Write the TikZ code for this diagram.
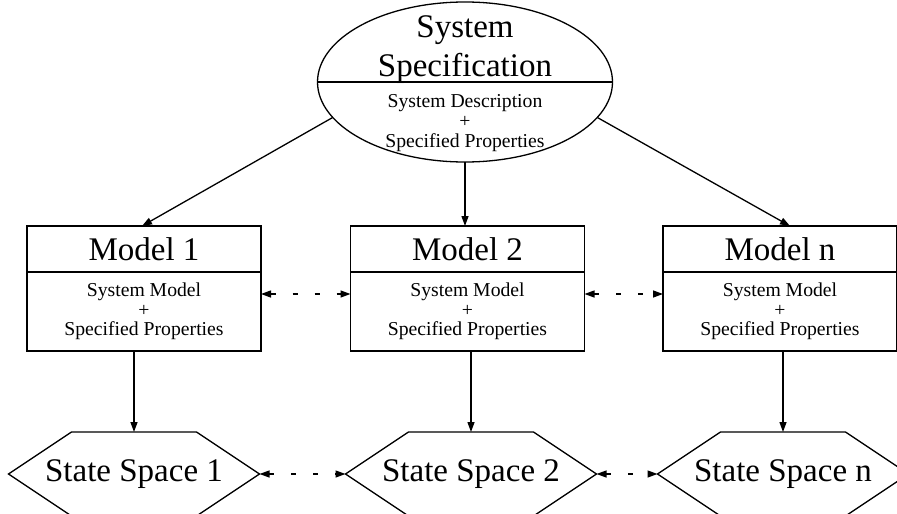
\documentclass[tikz,border=0pt]{standalone}
\usepackage{fontspec}
\setmainfont{Liberation Serif}
\usetikzlibrary{positioning,calc,arrows.meta,shapes.geometric}

\begin{document}
\begin{tikzpicture}[x=1pt,y=1pt,line width=1.3pt,
		>={Triangle[length=10pt,width=7pt]},
		big/.style={font=\fontsize{33}{39}\selectfont},
		small/.style={font=\fontsize{19.7}{19.5}\selectfont},
		head/.style={draw,big,minimum width=234pt,minimum height=46pt,inner sep=0pt,outer sep=0pt},
		body/.style={draw,small,align=center,minimum width=234pt,minimum height=79pt,inner sep=0pt,outer sep=0pt},
		space/.style={big,minimum width=251pt,minimum height=84pt,inner sep=0pt,outer sep=0pt},
		link/.style={<->,dash pattern=on 5pt off 17pt},
	]
	\useasboundingbox (0,0) rectangle (897,-514);
	\clip (0,0) rectangle (897,-514);
	% specification
	\node[draw,ellipse,minimum width=295pt,minimum height=160pt,inner sep=0pt,outer sep=0pt] (spec) at (465,-82) {};
	\node[big,align=center] (spectitle) at (465,-50) {System\\Specification};
	\node[small,align=center,font=\fontsize{19.7}{20}\selectfont] (specbody) at (465,-122.6) {System Description\\+\\Specified Properties};
	\draw (spec.west) -- (spec.east);
	% models
	\node[head] (m1) at (144,-249) {Model 1};
	\node[body,below=0pt of m1] (m1b) {System Model\\+\\Specified Properties};
	\node[head] (m2) at (467.5,-249) {Model 2};
	\node[body,below=0pt of m2] (m2b) {System Model\\+\\Specified Properties};
	\node[head] (mn) at (780,-249) {Model n};
	\node[body,below=0pt of mn] (mnb) {System Model\\+\\Specified Properties};
	% state spaces
	\node[space] (s1) at (134,-474) {State Space 1};
	\node[space] (s2) at (471,-474) {State Space 2};
	\node[space] (sn) at (783,-474) {State Space n};
	\foreach \s in {s1,s2,sn}
		\draw (\s.west) -- ([xshift=63pt]\s.north west) -- ([xshift=-63pt]\s.north east)
			-- (\s.east) -- ([xshift=-63pt]\s.south east) -- ([xshift=63pt]\s.south west) -- cycle;

	\path[->]
		(spec.195) edge ([xshift=-2pt]m1.north)
		(spec.south) edge (spec.south |- m2.north)
		(spec.345) edge ([xshift=10pt]mn.north)
		(s1.north |- m1b.south) edge (s1.north)
		(s2.north |- m2b.south) edge (s2.north)
		(sn.north |- mnb.south) edge (sn.north)
	;
	\path[link]
		([yshift=17.5pt]m1b.east) edge ([yshift=17.5pt]m2b.west)
		([yshift=17.5pt]m2b.east) edge ([yshift=17.5pt]mnb.west)
		(s1.east) edge (s2.west)
		(s2.east) edge (sn.west)
	;
\end{tikzpicture}
\end{document}
